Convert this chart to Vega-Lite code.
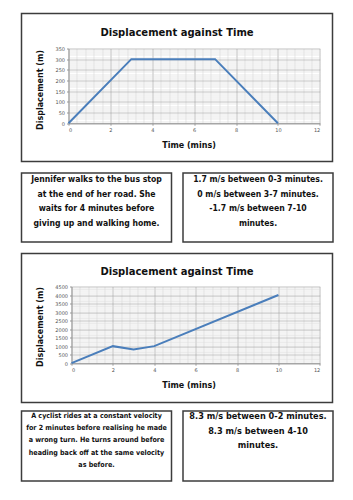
{
  "$schema": "https://vega.github.io/schema/vega-lite/v6.json",
  "background": "white",
  "padding": {"left": 20.5, "top": 12.5, "right": 0, "bottom": 0},
  "config": {"font": "DejaVu Sans", "concat": {"spacing": 9.5}},
  "datasets": {
    "walk": [{"t": 0, "d": 0}, {"t": 3, "d": 300}, {"t": 7, "d": 300}, {"t": 10, "d": 0}],
    "cycle": [{"t": 0, "d": 0}, {"t": 2, "d": 1000}, {"t": 3, "d": 800}, {"t": 4, "d": 1000}, {"t": 10, "d": 4000}]
  },
  "vconcat": [
    {
      "width": 311, "height": 148,
      "view": {"stroke": "#3c3c3c", "strokeWidth": 1.5, "fill": "white"},
      "title": {"text": "Displacement against Time", "offset": -19, "dy": 10, "baseline": "middle", "anchor": "middle", "fontSize": 10, "fontWeight": "bold", "font": "DejaVu Sans", "color": "#111"},
      "data": {"name": "walk"},
      "resolve": {"axis": {"x": "independent", "y": "independent"}},
      "layer": [
        {
          "mark": {"type": "line", "color": "#4a7ebb", "strokeWidth": 2},
          "encoding": {
            "x": {"field": "t", "type": "quantitative",
              "scale": {"domain": [0, 12], "range": [47, 298.3], "nice": false, "zero": false},
              "axis": {"orient": "top", "grid": true, "gridColor": "#d8d8d8", "gridWidth": 0.6, "labels": false, "ticks": false, "domain": false, "title": null,
                "values": [0.4, 0.8, 1.2, 1.6, 2.4, 2.8, 3.2, 3.6, 4.4, 4.8, 5.2, 5.6, 6.4, 6.8, 7.2, 7.6, 8.4, 8.8, 9.2, 9.6, 10.4, 10.8, 11.2, 11.6]}},
            "y": {"field": "d", "type": "quantitative",
              "scale": {"domain": [0, 350], "range": [109.7, 35], "nice": false, "zero": false},
              "axis": {"orient": "left", "grid": true, "gridColor": "#d8d8d8", "gridWidth": 0.6, "labels": false, "ticks": false, "domain": false, "title": null,
                "values": [10, 20, 30, 40, 60, 70, 80, 90, 110, 120, 130, 140, 160, 170, 180, 190, 210, 220, 230, 240, 260, 270, 280, 290, 310, 320, 330, 340]}}
          }
        },
        {
          "mark": {"type": "line", "opacity": 0},
          "encoding": {
            "x": {"field": "t", "type": "quantitative",
              "axis": {"orient": "top", "grid": true, "gridColor": "#b0b0b0", "gridWidth": 0.8, "labels": false, "ticks": false, "domain": false, "title": null,
                "values": [0, 2, 4, 6, 8, 10, 12]}},
            "y": {"field": "d", "type": "quantitative",
              "axis": {"orient": "left", "offset": -47, "grid": true, "gridColor": "#b0b0b0", "gridWidth": 0.8,
                "values": [0, 50, 100, 150, 200, 250, 300, 350], "format": "d",
                "labelFontSize": 5, "labelColor": "#555", "labelPadding": 2, "tickSize": 2, "tickColor": "#999", "domainColor": "#999",
                "title": "Displacement (m)", "titleFontSize": 8, "titleFontWeight": "bold", "titleColor": "#111",
                "titleX": -28, "titleY": 76, "titleAngle": 270, "titleBaseline": "middle", "titleAlign": "center"}}
          }
        },
        {
          "mark": {"type": "line", "opacity": 0},
          "encoding": {
            "x": {"field": "t", "type": "quantitative",
              "axis": {"orient": "bottom", "offset": -38.3, "grid": false,
                "values": [0, 2, 4, 6, 8, 10, 12],
                "labelFontSize": 5, "labelColor": "#555", "labelPadding": 2, "tickSize": 2, "tickColor": "#999", "domainColor": "#999",
                "title": "Time (mins)", "titleFontSize": 8, "titleFontWeight": "bold", "titleColor": "#111",
                "titleX": 167, "titleY": 22.3, "titleBaseline": "middle", "titleAlign": "center"}},
            "y": {"field": "d", "type": "quantitative", "axis": null}
          }
        }
      ]
    },
    {
      "hconcat": [
        {
          "width": 150, "height": 69,
          "view": {"stroke": "#3c3c3c", "strokeWidth": 1.5, "fill": "white"},
          "data": {"values": [{"txt": "Jennifer walks to the bus stop\nat the end of her road. She\nwaits for 4 minutes before\ngiving up and walking home."}]},
          "mark": {"type": "text", "lineBreak": "\n", "fontSize": 8.6, "fontWeight": "bold", "font": "DejaVu Sans Condensed, sans-serif", "lineHeight": 14.6, "dy": -28.2, "align": "center", "baseline": "middle", "color": "#111"},
          "encoding": {"text": {"field": "txt", "type": "nominal"}}
        },
        {
          "width": 150, "height": 69,
          "view": {"stroke": "#3c3c3c", "strokeWidth": 1.5, "fill": "white"},
          "data": {"values": [{"txt": "1.7 m/s between 0-3 minutes.\n0 m/s between 3-7 minutes.\n-1.7 m/s between 7-10\nminutes."}]},
          "mark": {"type": "text", "lineBreak": "\n", "fontSize": 8.6, "fontWeight": "bold", "font": "DejaVu Sans Condensed, sans-serif", "lineHeight": 14.6, "dy": -28.2, "align": "center", "baseline": "middle", "color": "#111"},
          "encoding": {"text": {"field": "txt", "type": "nominal"}}
        }
      ]
    },
    {
      "spacing": 6.5,
      "vconcat": [
        {
          "width": 311, "height": 149,
          "view": {"stroke": "#3c3c3c", "strokeWidth": 1.5, "fill": "white"},
          "title": {"text": "Displacement against Time", "offset": -18.5, "dy": 10, "baseline": "middle", "anchor": "middle", "fontSize": 10, "fontWeight": "bold", "font": "DejaVu Sans", "color": "#111"},
          "data": {"name": "cycle"},
          "resolve": {"axis": {"x": "independent", "y": "independent"}},
          "layer": [
            {
              "mark": {"type": "line", "color": "#4a7ebb", "strokeWidth": 2},
              "encoding": {
                "x": {"field": "t", "type": "quantitative",
                  "scale": {"domain": [0, 12], "range": [50, 298.3], "nice": false, "zero": false},
                  "axis": {"orient": "top", "grid": true, "gridColor": "#d8d8d8", "gridWidth": 0.6, "labels": false, "ticks": false, "domain": false, "title": null,
                    "values": [0.4, 0.8, 1.2, 1.6, 2.4, 2.8, 3.2, 3.6, 4.4, 4.8, 5.2, 5.6, 6.4, 6.8, 7.2, 7.6, 8.4, 8.8, 9.2, 9.6, 10.4, 10.8, 11.2, 11.6]}},
                "y": {"field": "d", "type": "quantitative",
                  "scale": {"domain": [0, 4500], "range": [109.7, 33], "nice": false, "zero": false},
                  "axis": {"orient": "left", "grid": true, "gridColor": "#d8d8d8", "gridWidth": 0.6, "labels": false, "ticks": false, "domain": false, "title": null,
                    "values": [100, 200, 300, 400, 600, 700, 800, 900, 1100, 1200, 1300, 1400, 1600, 1700, 1800, 1900, 2100, 2200, 2300, 2400, 2600, 2700, 2800, 2900, 3100, 3200, 3300, 3400, 3600, 3700, 3800, 3900, 4100, 4200, 4300, 4400]}}
              }
            },
            {
              "mark": {"type": "line", "opacity": 0},
              "encoding": {
                "x": {"field": "t", "type": "quantitative",
                  "axis": {"orient": "top", "grid": true, "gridColor": "#b0b0b0", "gridWidth": 0.8, "labels": false, "ticks": false, "domain": false, "title": null,
                    "values": [0, 2, 4, 6, 8, 10, 12]}},
                "y": {"field": "d", "type": "quantitative",
                  "axis": {"orient": "left", "offset": -50, "grid": true, "gridColor": "#b0b0b0", "gridWidth": 0.8,
                    "values": [0, 500, 1000, 1500, 2000, 2500, 3000, 3500, 4000, 4500], "format": "d",
                    "labelFontSize": 5, "labelColor": "#555", "labelPadding": 2, "tickSize": 2, "tickColor": "#999", "domainColor": "#999",
                    "title": "Displacement (m)", "titleFontSize": 8, "titleFontWeight": "bold", "titleColor": "#111",
                    "titleX": -31.5, "titleY": 73, "titleAngle": 270, "titleBaseline": "middle", "titleAlign": "center"}}
              }
            },
            {
              "mark": {"type": "line", "opacity": 0},
              "encoding": {
                "x": {"field": "t", "type": "quantitative",
                  "axis": {"orient": "bottom", "offset": -39.3, "grid": false,
                    "values": [0, 2, 4, 6, 8, 10, 12],
                    "labelFontSize": 5, "labelColor": "#555", "labelPadding": 2, "tickSize": 2, "tickColor": "#999", "domainColor": "#999",
                    "title": "Time (mins)", "titleFontSize": 8, "titleFontWeight": "bold", "titleColor": "#111",
                    "titleX": 167, "titleY": 22.3, "titleBaseline": "middle", "titleAlign": "center"}},
                "y": {"field": "d", "type": "quantitative", "axis": null}
              }
            }
          ]
        },
        {
          "hconcat": [
            {
              "width": 150, "height": 70,
              "view": {"stroke": "#3c3c3c", "strokeWidth": 1.5, "fill": "white"},
              "data": {"values": [{"txt": "A cyclist rides at a constant velocity\nfor 2 minutes before realising he made\na wrong turn. He turns around before\nheading back off at the same velocity\nas before."}]},
              "mark": {"type": "text", "lineBreak": "\n", "fontSize": 7.1, "fontWeight": "bold", "font": "DejaVu Sans Condensed, sans-serif", "lineHeight": 12.2, "dy": -30, "align": "center", "baseline": "middle", "color": "#111"},
              "encoding": {"text": {"field": "txt", "type": "nominal"}}
            },
            {
              "width": 150, "height": 70,
              "view": {"stroke": "#3c3c3c", "strokeWidth": 1.5, "fill": "white"},
              "data": {"values": [{"txt": "8.3 m/s between 0-2 minutes.\n8.3 m/s between 4-10\nminutes."}]},
              "mark": {"type": "text", "lineBreak": "\n", "fontSize": 9.1, "fontWeight": "bold", "font": "DejaVu Sans Condensed, sans-serif", "lineHeight": 14.5, "dy": -30, "align": "center", "baseline": "middle", "color": "#111"},
              "encoding": {"text": {"field": "txt", "type": "nominal"}}
            }
          ]
        }
      ]
    }
  ]
}
